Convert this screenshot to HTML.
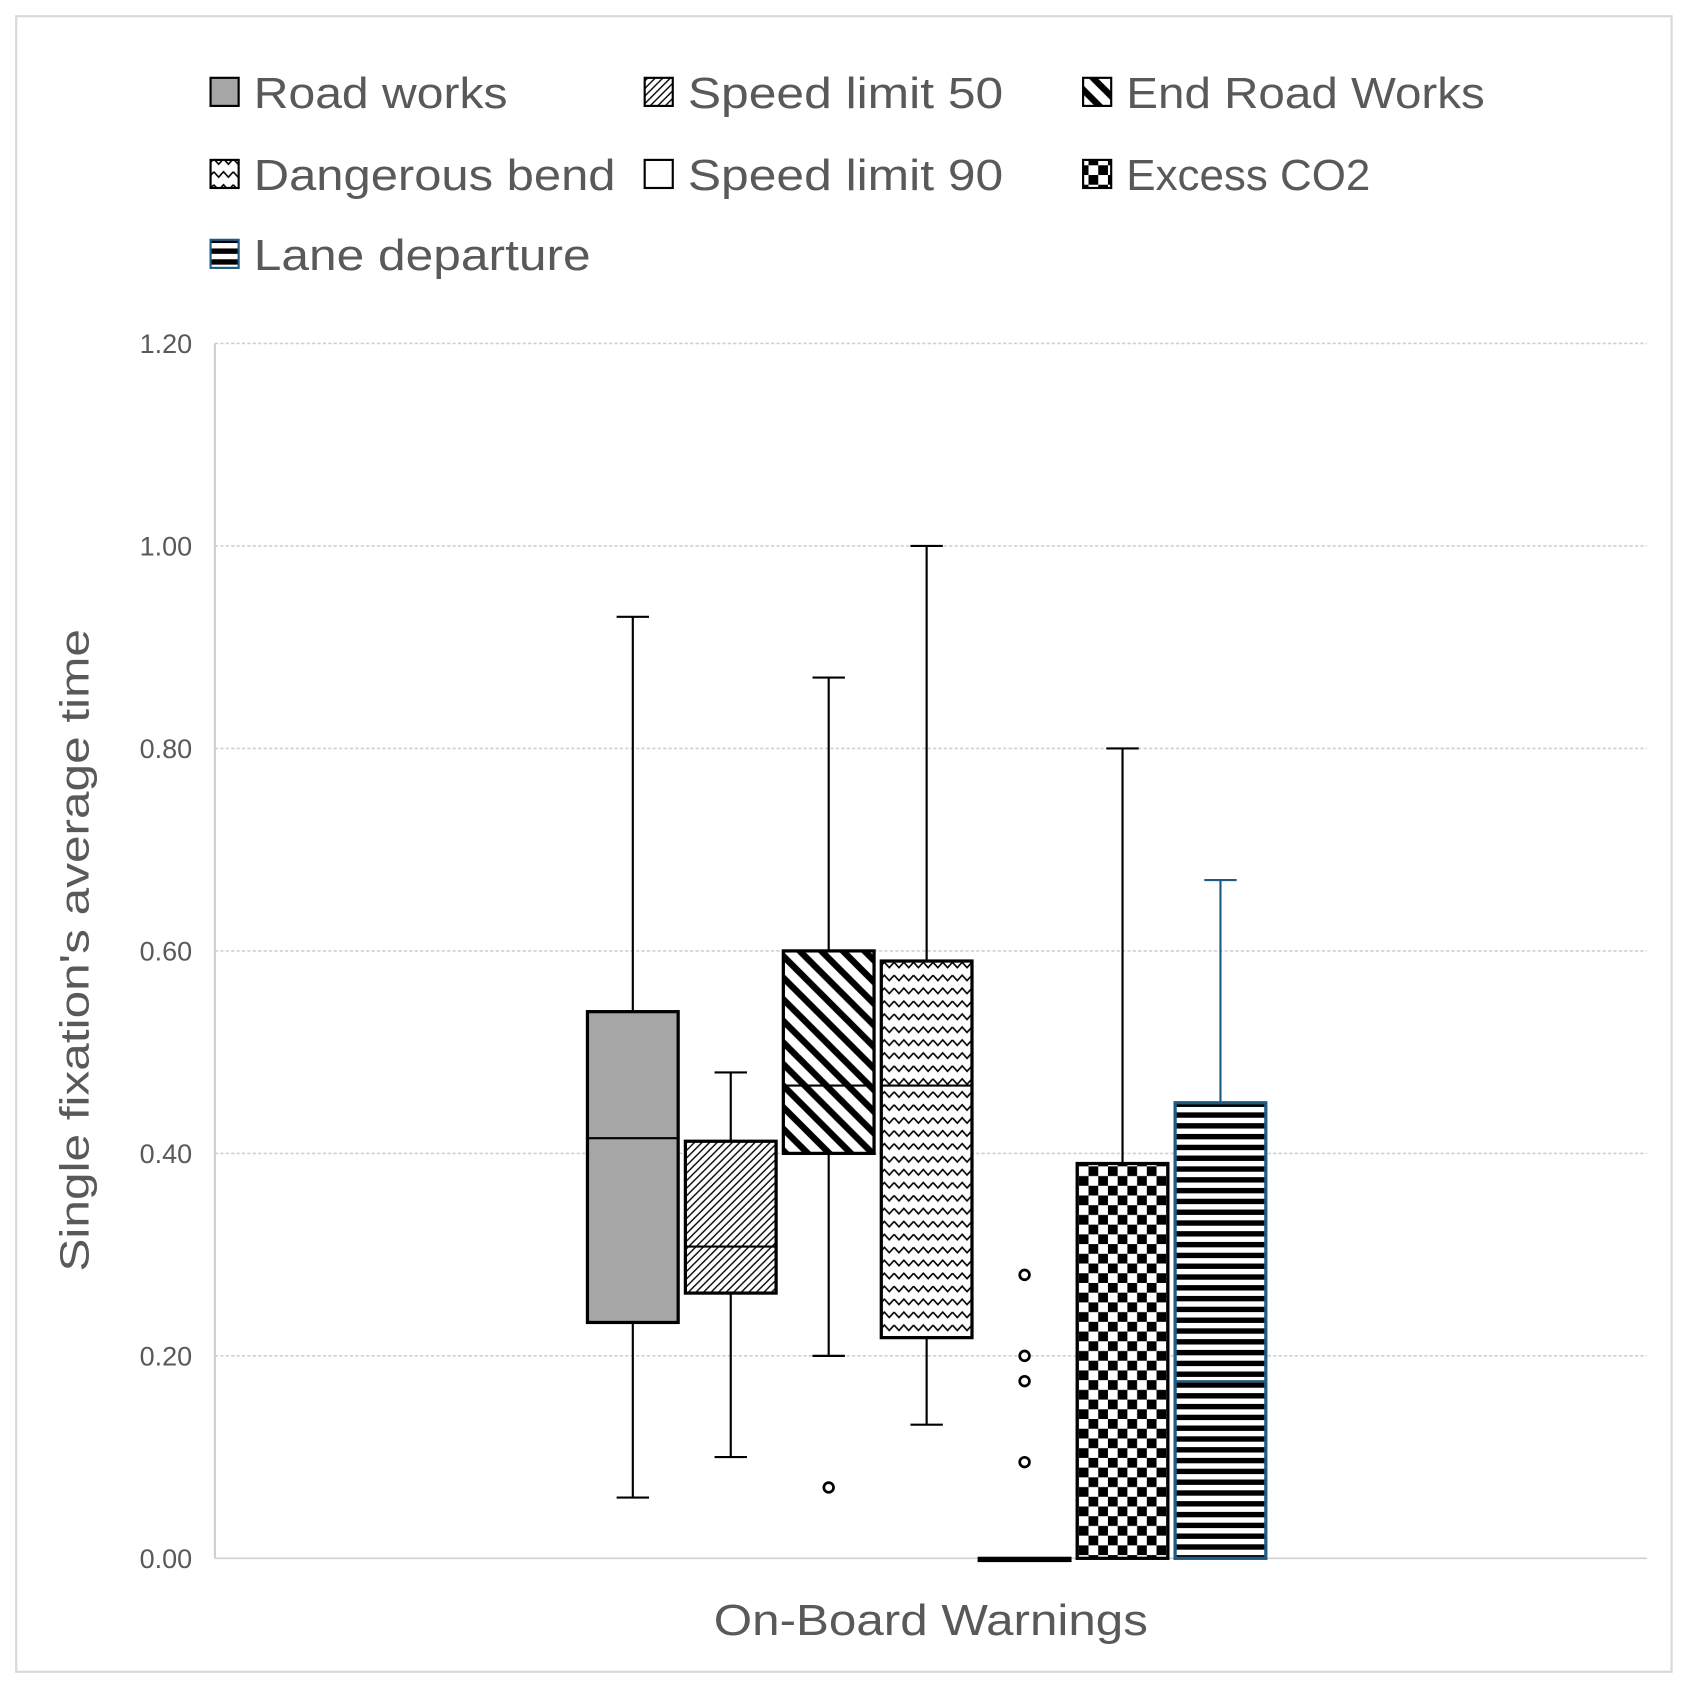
<!DOCTYPE html>
<html><head><meta charset="utf-8"><style>html,body{margin:0;padding:0;background:#fff}svg{display:block}</style></head>
<body>
<svg width="1690" height="1688" viewBox="0 0 1565 1563" xmlns="http://www.w3.org/2000/svg" font-family="'Liberation Sans', sans-serif">
<defs>
<pattern id="p-sl50" patternUnits="userSpaceOnUse" width="7" height="7"><rect width="7" height="7" fill="#fff"/><path d="M-1,8 L8,-1 M-1,1 L1,-1 M6,8 L8,6" stroke="#000" stroke-width="1.3"/></pattern>
<pattern id="p-erw" patternUnits="userSpaceOnUse" width="20" height="20"><rect width="20" height="20" fill="#fff"/><path d="M-5,-5 L25,25 M-5,15 L5,25 M15,-5 L25,5" stroke="#000" stroke-width="6"/></pattern>
<pattern id="p-db" patternUnits="userSpaceOnUse" width="18" height="12"><rect width="18" height="12" fill="#fff"/><path d="M0,3 L4.5,8 L9,3 L13.5,8 L18,3" fill="none" stroke="#000" stroke-width="1.5"/></pattern>
<pattern id="p-co2" patternUnits="userSpaceOnUse" width="18" height="18"><rect width="18" height="18" fill="#fff"/><rect width="9" height="9" fill="#000"/><rect x="9" y="9" width="9" height="9" fill="#000"/></pattern>
<pattern id="p-ld" patternUnits="userSpaceOnUse" width="10" height="10"><rect width="10" height="10" fill="#fff"/><rect y="0" width="10" height="5" fill="#000"/></pattern>
</defs>
<rect x="15" y="15" width="1533" height="1533" fill="#fff" stroke="#d9d9d9" stroke-width="2"/>
<g id="legend"></g>
<g id="grid"></g>
<g id="yticks"></g>
<g id="boxes"></g>
<text transform="translate(82,880) rotate(-90)" text-anchor="middle" font-size="38" fill="#595959" textLength="595" lengthAdjust="spacingAndGlyphs">Single fixation's average time</text>
<text x="862" y="1514" text-anchor="middle" font-size="40" fill="#595959" textLength="402" lengthAdjust="spacingAndGlyphs">On-Board Warnings</text>
</svg>
<script>
const categories = ["Road works","Speed limit 50","End Road Works","Dangerous bend","Speed limit 90","Excess CO2","Lane departure"];
const mins    = [0.06, 0.10, 0.20, 0.132, 0, 0, 0];
const q1s     = [0.233, 0.262, 0.40, 0.218, 0, 0, 0];
const medians = [0.415, 0.308, 0.467, 0.467, 0, 0, 0.175];
const q3s     = [0.54, 0.412, 0.60, 0.59, 0, 0.39, 0.45];
const maxs    = [0.93, 0.48, 0.87, 1.00, 0, 0.80, 0.67];
const outliers = [[], [], [0.07], [], [0.28, 0.20, 0.175, 0.095], [], []];
const yTicks = [0, 0.2, 0.4, 0.6, 0.8, 1.0, 1.2];
const fills = ["#a6a6a6","url(#p-sl50)","url(#p-erw)","url(#p-db)","#fff","url(#p-co2)","url(#p-ld)"];
const strokes = ["#000","#000","#000","#000","#000","#000","#1f5c84"];
const legendWidths = [235,292,332,335,292,226,312];

const NS="http://www.w3.org/2000/svg";
const y = v => 1443 - v/1.2*1125;
const x = i => 586 + i*90.7;
function mk(tag, attrs, parent){const e=document.createElementNS(NS,tag);for(const k in attrs)e.setAttribute(k,attrs[k]);parent.appendChild(e);return e;}

const grid=document.getElementById('grid'), yt=document.getElementById('yticks');
yTicks.forEach(t=>{
  const l=mk('line',{x1:199,x2:1525,y1:y(t),y2:y(t),stroke:'#d0d0d0','stroke-width':1.5,'stroke-dasharray':t===0?'':'3,2'},grid);
  
  
  const tx=mk('text',{x:178,y:y(t)+9,'text-anchor':'end','font-size':25,fill:'#595959'},yt);
  
  
  tx.textContent=t.toFixed(2);
});
const ax=mk('line',{x1:199,x2:199,y1:y(1.2),y2:y(0),stroke:'#d0d0d0','stroke-width':2},grid);



const bx=document.getElementById('boxes');
categories.forEach((c,i)=>{
  const g=mk('g',{},bx);
  
  
  const cx=x(i), hw=42, s=strokes[i];
  mk('line',{x1:cx,x2:cx,y1:y(maxs[i]),y2:y(q3s[i]),stroke:s,'stroke-width':2},g);
  mk('line',{x1:cx,x2:cx,y1:y(q1s[i]),y2:y(mins[i]),stroke:s,'stroke-width':2},g);
  mk('line',{x1:cx-15,x2:cx+15,y1:y(maxs[i]),y2:y(maxs[i]),stroke:s,'stroke-width':2},g);
  mk('line',{x1:cx-15,x2:cx+15,y1:y(mins[i]),y2:y(mins[i]),stroke:s,'stroke-width':2},g);
  const h=Math.max(y(q1s[i])-y(q3s[i]),2);
  mk('rect',{x:cx-hw,y:y(q3s[i]),width:hw*2,height:h,fill:fills[i],stroke:s,'stroke-width':h<=2?3:3},g);
  mk('line',{x1:cx-hw,x2:cx+hw,y1:y(medians[i]),y2:y(medians[i]),stroke:i===6?'#1f5c84':'#000','stroke-width':2},g);
  outliers[i].forEach(o=>{
    const ci=mk('circle',{cx:cx,cy:y(o),r:4.5,fill:'#fff',stroke:'#000','stroke-width':2.5},g);
    
    
  });
});

const lg=document.getElementById('legend');
const colX=[195,597,1003], rowY=[86,162,236];
categories.forEach((c,i)=>{
  const col=i%3,row=Math.floor(i/3);
  const g=mk('g',{},lg);
  
  
  mk('rect',{x:colX[col],y:rowY[row]-14,width:26,height:26,fill:fills[i],stroke:strokes[i],'stroke-width':2},g);
  const t=mk('text',{x:colX[col]+40,y:rowY[row]+14,'font-size':40,fill:'#595959',textLength:legendWidths[i],lengthAdjust:'spacingAndGlyphs'},g);
  t.textContent=c;
});
</script>
</body></html>
